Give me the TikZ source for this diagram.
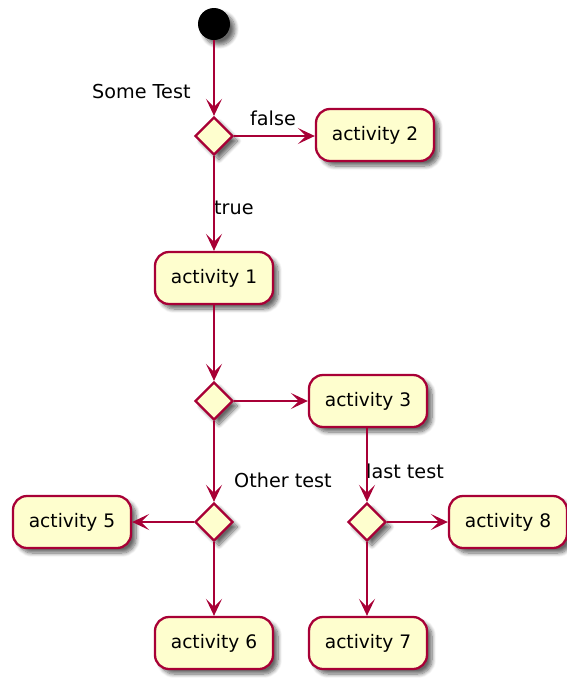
\documentclass[tikz,border=0pt]{standalone}
\usepackage{fontspec}
\setmainfont{DejaVu Sans}
\usetikzlibrary{arrows.meta,shapes.geometric,shadows.blur}
\definecolor{actfill}{HTML}{FEFECE}
\definecolor{actline}{HTML}{A80036}
\tikzset{
  shad/.style={blur shadow={shadow blur steps=8, shadow xshift=5pt, shadow yshift=-5pt, shadow opacity=60, shadow blur radius=4pt}},
  act/.style={draw=actline, fill=actfill, line width=2.3pt, rounded corners=14pt,
    minimum width=118pt, minimum height=52pt, inner sep=0pt, font=\fontsize{18.6}{20}\selectfont, shad},
  dec/.style={diamond, draw=actline, fill=actfill, line width=2.3pt, minimum width=38pt, minimum height=38pt, inner sep=0pt, shad},
  startnode/.style={circle, fill=black, minimum size=32pt, inner sep=0pt, shad},
  conn/.style={draw=actline, line width=2.3pt, -{Stealth[length=17pt, width=16pt, inset=8pt]}},
  lbl/.style={inner sep=0pt, anchor=west, font=\fontsize{19.2}{21}\selectfont}
}
\begin{document}
\begin{tikzpicture}[x=1pt,y=-1pt]
\useasboundingbox (0,0) rectangle (566,678);
\node[startnode] (s) at (214,24) {};
\node[dec] (d1) at (214,136) {};
\node[act] (a2) at (375,135) {activity 2};
\node[act] (a1) at (214,278) {activity 1};
\node[dec] (d2) at (214,401) {};
\node[act] (a3) at (368,401) {activity 3};
\node[dec] (d3) at (214,522) {};
\node[dec] (d4) at (367,522) {};
\node[act] (a5) at (72,522) {activity 5};
\node[act] (a8) at (508,522) {activity 8};
\node[act] (a6) at (214,643) {activity 6};
\node[act] (a7) at (368,643) {activity 7};

\node[lbl] (l1) at (92,92) {Some Test};
\node[lbl] (l2) at (250,118) {false};
\node[lbl] (l3) at (214,208) {true};
\node[lbl] (l4) at (234,480) {Other test};
\node[lbl] (l5) at (366,471) {last test};

\draw[conn] (s) -- (d1);
\draw[conn] (d1) -- (d1 -| a2.west);
\draw[conn] (d1) -- (a1);
\draw[conn] (a1) -- (d2);
\draw[conn] (d2) -- (a3);
\draw[conn] (d2) -- (d3);
\draw[conn] (a3.south -| d4) -- (d4);
\draw[conn] (d3) -- (a5);
\draw[conn] (d3) -- (a6);
\draw[conn] (d4) -- (a8);
\draw[conn] (d4) -- (a7.north -| d4);
\end{tikzpicture}
\end{document}
